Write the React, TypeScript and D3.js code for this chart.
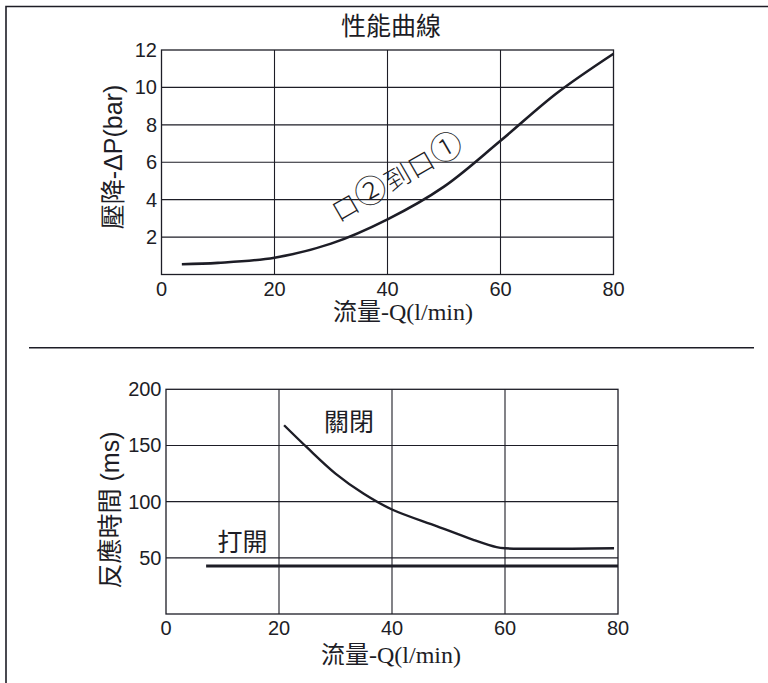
import React, { useEffect, useRef } from 'react';
import * as d3 from 'd3';

// shared x axis (flow, l/min)
const FLOW_TICKS = [0, 20, 40, 60, 80];

// top chart: pressure drop vs flow
const DP_TICKS = [2, 4, 6, 8, 10, 12];
const dpFlow = [3.6, 10, 20, 30, 40, 50, 60, 70, 80];
const dpBar = [0.55, 0.62, 0.9, 1.65, 2.95, 4.7, 7.15, 9.7, 11.8];

// bottom chart: response time vs flow
const RT_TICKS = [50, 100, 150, 200];
const closeFlow = [20.9, 25, 30, 35, 40, 48, 54.4, 58.5, 60, 79.3];
const closeMs = [168, 148, 125, 107, 93, 78, 66, 59.5, 58.5, 58.5];
const openFlow = [7.1, 80];
const openMs = [42.7, 42.7];

const INK = '#1d1d26';
const SANS = '"Liberation Sans", "Noto Sans CJK TC", sans-serif';
const CJK = '"Noto Sans CJK TC", sans-serif';
const SERIF = '"Liberation Serif", "Noto Sans CJK TC", serif';

type Panel = {
  left: number; right: number; top: number; bottom: number;
  yMax: number; yTicks: number[];
};

function drawPanel(svg: d3.Selection<SVGSVGElement, unknown, null, undefined>, p: Panel) {
  const x = d3.scaleLinear().domain([0, 80]).range([p.left, p.right]);
  const y = d3.scaleLinear().domain([0, p.yMax]).range([p.bottom, p.top]);
  const g = svg.append('g');

  // grid
  FLOW_TICKS.slice(1, -1).forEach(t => {
    g.append('line')
      .attr('x1', x(t)).attr('x2', x(t))
      .attr('y1', p.top).attr('y2', p.bottom)
      .attr('stroke', INK).attr('stroke-width', 1.1);
  });
  p.yTicks.slice(0, -1).forEach(t => {
    g.append('line')
      .attr('x1', p.left).attr('x2', p.right)
      .attr('y1', y(t)).attr('y2', y(t))
      .attr('stroke', INK).attr('stroke-width', 1.1);
  });
  g.append('rect')
    .attr('x', p.left).attr('y', p.top)
    .attr('width', p.right - p.left).attr('height', p.bottom - p.top)
    .attr('fill', 'none').attr('stroke', INK).attr('stroke-width', 1.3);

  // tick labels
  FLOW_TICKS.forEach(t => {
    g.append('text')
      .attr('x', x(t)).attr('y', p.bottom + 14)
      .attr('dy', '0.35em')
      .attr('text-anchor', 'middle')
      .attr('font-family', SANS).attr('font-size', 20).attr('fill', INK)
      .text(t);
  });
  p.yTicks.forEach(t => {
    g.append('text')
      .attr('x', p.left - 4.5).attr('y', y(t))
      .attr('dy', '0.35em')
      .attr('text-anchor', 'end')
      .attr('font-family', SANS).attr('font-size', 20).attr('fill', INK)
      .text(t);
  });

  return { x, y, g };
}

export default function App() {
  const ref = useRef<SVGSVGElement>(null);

  useEffect(() => {
    if (!ref.current) return;
    const svg = d3.select(ref.current);
    svg.selectAll('*').remove();

    // outer frame + divider
    svg.append('path')
      .attr('d', 'M6,683 V6.5 H768')
      .attr('fill', 'none').attr('stroke', INK).attr('stroke-width', 1.6);
    svg.append('line')
      .attr('x1', 29).attr('x2', 754).attr('y1', 347.7).attr('y2', 347.7)
      .attr('stroke', INK).attr('stroke-width', 1.6);

    // ---- top: pressure drop
    const top = drawPanel(svg, { left: 161.5, right: 613.5, top: 50, bottom: 274.5, yMax: 12, yTicks: DP_TICKS });
    const dpLine = d3.line<number>()
      .x((_, i) => top.x(dpFlow[i]))
      .y(d => top.y(d))
      .curve(d3.curveCatmullRom.alpha(0.5));
    top.g.append('path')
      .attr('d', dpLine(dpBar))
      .attr('fill', 'none').attr('stroke', INK).attr('stroke-width', 2.6);

    svg.append('text')
      .attr('x', 391).attr('y', 26).attr('dy', '0.35em')
      .attr('text-anchor', 'middle')
      .attr('font-family', CJK).attr('font-size', 25).attr('fill', INK)
      .text('性能曲線');
    svg.append('text')
      .attr('x', 403).attr('y', 311.5).attr('dy', '0.35em')
      .attr('text-anchor', 'middle')
      .attr('font-family', SERIF).attr('font-size', 24).attr('fill', INK)
      .text('流量-Q(l/min)');
    svg.append('text')
      .attr('transform', 'translate(113,157) rotate(-90)')
      .attr('dy', '0.35em')
      .attr('text-anchor', 'middle')
      .attr('font-family', SANS).attr('font-size', 25).attr('fill', INK)
      .text('壓降-ΔP(bar)');

    // port label along the curve
    const port = svg.append('text')
      .attr('transform', 'translate(400,181) rotate(-30)')
      .attr('dy', '0.35em')
      .attr('text-anchor', 'middle')
      .attr('font-family', CJK).attr('fill', INK)
      .attr('letter-spacing', 1);
    [['口', 26], ['②', 32], ['到', 26], ['口', 26], ['①', 32]].forEach(([s, fs]) => {
      port.append('tspan').attr('font-size', fs as number).attr('font-weight', 300).text(s as string);
    });

    // ---- bottom: response time
    const bot = drawPanel(svg, { left: 166, right: 618, top: 389.3, bottom: 614, yMax: 200, yTicks: RT_TICKS });
    const closeLine = d3.line<number>()
      .x((_, i) => bot.x(closeFlow[i]))
      .y(d => bot.y(d))
      .curve(d3.curveCatmullRom.alpha(0.5));
    bot.g.append('path')
      .attr('d', closeLine(closeMs))
      .attr('fill', 'none').attr('stroke', INK).attr('stroke-width', 2.4);
    const openLine = d3.line<number>()
      .x((_, i) => bot.x(openFlow[i]))
      .y(d => bot.y(d));
    bot.g.append('path')
      .attr('d', openLine(openMs))
      .attr('fill', 'none').attr('stroke', INK).attr('stroke-width', 3);

    svg.append('text')
      .attr('x', 349).attr('y', 422).attr('dy', '0.35em')
      .attr('text-anchor', 'middle')
      .attr('font-family', CJK).attr('font-size', 25).attr('fill', INK)
      .text('關閉');
    svg.append('text')
      .attr('x', 242.5).attr('y', 542).attr('dy', '0.35em')
      .attr('text-anchor', 'middle')
      .attr('font-family', CJK).attr('font-size', 25).attr('fill', INK)
      .text('打開');
    svg.append('text')
      .attr('x', 391).attr('y', 655).attr('dy', '0.35em')
      .attr('text-anchor', 'middle')
      .attr('font-family', SERIF).attr('font-size', 24).attr('fill', INK)
      .text('流量-Q(l/min)');
    svg.append('text')
      .attr('transform', 'translate(110,510) rotate(-90)')
      .attr('dy', '0.35em')
      .attr('text-anchor', 'middle')
      .attr('font-family', SANS).attr('font-size', 25).attr('fill', INK)
      .text('反應時間 (ms)');
  }, []);

  return (
    <svg
      ref={ref}
      width={768}
      height={683}
      style={{ position: 'absolute', left: 0, top: 0, background: '#fff' }}
    />
  );
}
